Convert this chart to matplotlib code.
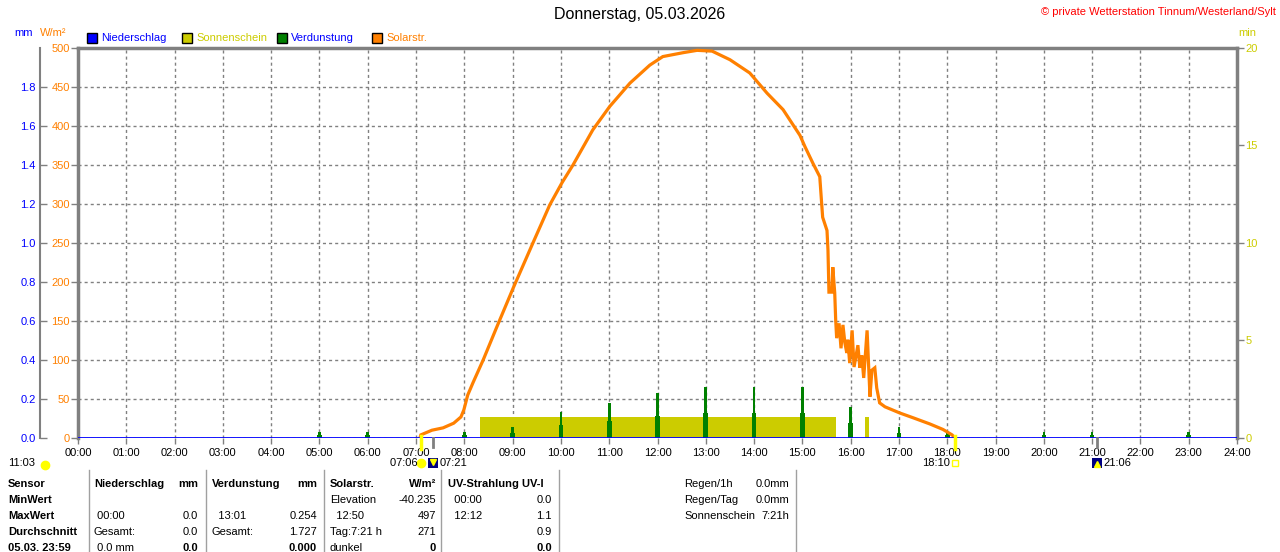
import matplotlib
matplotlib.use('Agg')
import matplotlib.pyplot as plt
import matplotlib.transforms as mtransforms
from matplotlib.patches import Rectangle
from matplotlib.lines import Line2D

plt.rcParams['font.family'] = ['Liberation Sans', 'DejaVu Sans']
plt.rcParams['font.size'] = 8

# solar radiation W/m2 (hour of day, value)
sol_hours = [7.08, 7.10, 7.33, 7.56, 7.78, 7.93, 7.99, 8.07, 8.18, 8.39, 8.67, 9.01,
             9.42, 9.77, 10.02, 10.25, 10.66, 11.01, 11.43, 11.84, 12.11, 12.53,
             12.82, 13.13, 13.50, 13.91, 14.27, 14.60, 14.95, 15.05, 15.22, 15.36,
             15.40, 15.42, 15.51, 15.53, 15.55, 15.61, 15.63, 15.67, 15.69, 15.71,
             15.76, 15.80, 15.84, 15.88, 15.92, 15.94, 15.98, 16.03, 16.07, 16.15,
             16.19, 16.23, 16.27, 16.34, 16.40, 16.44, 16.50, 16.54, 16.60, 16.71,
             17.02, 17.29, 17.64, 17.91, 18.10, 18.16]
sol_values = [0, 4, 10, 13, 19, 27, 36, 55, 71, 100, 142, 192,
              250, 299, 327, 350, 395, 425, 455, 478, 489, 494,
              497, 496, 485, 468, 442, 421, 388, 374, 352, 335,
              300, 283, 266, 241, 187, 187, 219, 186, 151, 128,
              147, 115, 145, 122, 109, 126, 96, 138, 91, 119,
              90, 106, 77, 138, 53, 87, 90, 64, 45, 40,
              32, 26, 18, 11, 4, 0]

# sunshine minutes
sun_start = [8.33, 16.30]
sun_end = [15.70, 16.38]
sun_min = [1.09, 1.09]

# evaporation mm, two readings around each hour
evap_hours = [5, 6, 8, 9, 10, 11, 12, 13, 14, 15, 16, 17, 18, 20, 21, 23]
evap_peak = [0.03, 0.03, 0.03, 0.056, 0.133, 0.18, 0.23, 0.26, 0.26, 0.26, 0.16,
             0.056, 0.03, 0.03, 0.03, 0.03]
evap_low = [0.015, 0.015, 0.015, 0.025, 0.067, 0.087, 0.113, 0.128, 0.128, 0.128,
            0.077, 0.025, 0.015, 0.015, 0.015, 0.015]

hour_labels = ['%02d:00' % h for h in range(25)]

ORANGE = '#ff8000'
YELLOW = '#cccc00'
GREEN = '#008000'
BLUE = '#0000ff'
GRAY = '#808080'

W, H = 1280, 552
fig = plt.figure(figsize=(W / 100, H / 100), dpi=100)


def fx(x):
    return x / W


def fy(y):
    return 1 - y / H


ax = fig.add_axes([fx(78), fy(438), fx(1237 - 78), (438 - 48) / H])
ax.set_xlim(0, 24)
ax.set_ylim(0, 500)
ax.set_xticks(range(25))
ax.set_xticklabels(hour_labels)
ax.set_yticks(range(0, 501, 50))
ax.grid(True, color=GRAY, linestyle=(0, (2.2, 2.2)), linewidth=1)
ax.tick_params(axis='y', colors=GRAY, labelcolor=ORANGE, length=5, width=1, pad=1,
               labelsize=8)
ax.tick_params(axis='x', colors=GRAY, labelcolor='black', length=4, width=1, pad=3,
               labelsize=8)
for s in ['left', 'top', 'right']:
    ax.spines[s].set_color(GRAY)
    ax.spines[s].set_linewidth(2.5)
ax.spines['bottom'].set_visible(False)

# sunshine minutes (right axis)
ax_min = ax.twinx()
ax_min.set_ylim(0, 20)
ax_min.set_yticks([0, 5, 10, 15, 20])
ax_min.tick_params(axis='y', colors=GRAY, labelcolor=YELLOW, length=5, width=1, pad=1,
                   labelsize=8)
for s in ax_min.spines.values():
    s.set_visible(False)
widths = [e - s for s, e in zip(sun_start, sun_end)]
ax_min.bar(sun_start, sun_min, width=widths, align='edge', color=YELLOW, linewidth=0)

# evaporation / precipitation (mm axis, far left)
ax_mm = ax.twinx()
ax_mm.set_ylim(0, 2)
ax_mm.yaxis.set_ticks_position('left')
ax_mm.set_yticks([i / 10 for i in range(0, 19, 2)])
ax_mm.set_yticklabels(['%.1f' % (i / 10) for i in range(0, 19, 2)])
for s in ['right', 'top', 'bottom']:
    ax_mm.spines[s].set_visible(False)
ax_mm.spines['left'].set_visible(True)
ax_mm.spines['left'].set_position(('outward', 38 * 0.72))
ax_mm.spines['left'].set_color(GRAY)
ax_mm.spines['left'].set_linewidth(1.5)
ax_mm.tick_params(axis='y', direction='in', colors=GRAY, labelcolor=BLUE, length=5,
                  width=1, pad=3, labelsize=8)
ax_mm.bar(evap_hours, evap_low, width=0.095, color=GREEN, linewidth=0)
ax_mm.bar(evap_hours, evap_peak, width=0.055, color=GREEN, linewidth=0)

# solar radiation on top
ax_sol = ax.twinx()
ax_sol.set_ylim(0, 500)
ax_sol.axis('off')
ax_sol.plot(sol_hours, sol_values, color=ORANGE, linewidth=2.3, solid_joinstyle='miter')
ax_sol.axhline(0, color=BLUE, linewidth=2, zorder=5)

# header texts
fig.text(0.5, fy(15), 'Donnerstag, 05.03.2026', ha='center', va='center', fontsize=11.5)
fig.text(fx(1276), fy(12), '\u00a9 private Wetterstation Tinnum/Westerland/Sylt',
         ha='right', va='center', color='red', fontsize=8)
fig.text(fx(14), fy(33), 'mm', color=BLUE, va='center')
fig.text(fx(40), fy(33), 'W/m\u00b2', color=ORANGE, va='center')
fig.text(fx(1238), fy(33), 'min', color=YELLOW, va='center')

legend = [('Niederschlag', BLUE, BLUE, 87), ('Sonnenschein', YELLOW, YELLOW, 182),
          ('Verdunstung', GREEN, BLUE, 277), ('Solarstr.', ORANGE, ORANGE, 372)]
for name, fc, tc, x0 in legend:
    fig.patches.append(Rectangle((fx(x0), fy(43)), fx(10), 10 / H, facecolor=fc,
                                 edgecolor='black', linewidth=1,
                                 transform=fig.transFigure, figure=fig))
    fig.text(fx(x0 + 14), fy(38), name, color=tc, va='center')

# sun and moon markers under the time axis
tr = mtransforms.blended_transform_factory(ax.transData, fig.transFigure)
fig.text(fx(8), fy(463), '11:03', va='center')
fig.add_artist(Line2D([fx(45)], [fy(465)], marker='o', markersize=6, color='#ffff00',
                      transform=fig.transFigure))

sunrise, sunset = 7.1, 18.17
moonset, moonrise = 7.35, 21.1
for t in [sunrise, sunset]:
    fig.add_artist(Line2D([t, t], [fy(436), fy(449)], color='#ffff00', linewidth=2.5,
                          transform=tr))
for t in [moonset, moonrise]:
    fig.add_artist(Line2D([t, t], [fy(438), fy(447)], color=GRAY, linewidth=2,
                          transform=tr))
fig.text(sunrise, fy(463), '07:06 ', transform=tr, ha='right', va='center')
fig.add_artist(Line2D([sunrise], [fy(463)], marker='o', markersize=6, color='#ffff00',
                      transform=tr))
fig.patches.append(Rectangle((moonset - 0.1, fy(468)), 0.2, 10 / H, facecolor='#000080',
                             edgecolor='none', transform=tr, figure=fig))
fig.add_artist(Line2D([moonset], [fy(462)], marker='v', markersize=5, color='#ffff00',
                      transform=tr))
fig.text(moonset + 0.13, fy(463), '07:21', transform=tr, va='center')

fig.text(sunset - 0.12, fy(463), '18:10', transform=tr, ha='right', va='center')
fig.add_artist(Line2D([sunset], [fy(463)], marker='s', markersize=5, color='#ffff00',
                      markerfacecolor='none', markeredgewidth=1, transform=tr))
fig.patches.append(Rectangle((moonrise - 0.1, fy(468)), 0.2, 10 / H, facecolor='#000080',
                             edgecolor='none', transform=tr, figure=fig))
fig.add_artist(Line2D([moonrise], [fy(464)], marker='^', markersize=5, color='#ffff00',
                      transform=tr))
fig.text(moonrise + 0.13, fy(463), '21:06', transform=tr, va='center')

# table at the bottom
for x in [89, 206, 324, 441, 559, 796]:
    fig.add_artist(Line2D([fx(x), fx(x)], [fy(470), fy(552)], color='#a0a0a0',
                          linewidth=1, transform=fig.transFigure))

rows_y = [484, 500, 516, 532, 548]
row_names = ['Sensor', 'MinWert', 'MaxWert', 'Durchschnitt', '05.03. 23:59']
for y, name in zip(rows_y, row_names):
    fig.text(fx(8), fy(y), name, fontweight='bold', va='center')

cols = [
    (94, 198, [('Niederschlag', 'mm', True), ('', '', False), (' 00:00', '0.0', False),
               ('Gesamt:', '0.0', False), (' 0.0 mm', '0.0', 'last')]),
    (212, 317, [('Verdunstung', 'mm', True), ('', '', False), ('  13:01', '0.254', False),
                ('Gesamt:', '1.727', False), ('', '0.000', 'last')]),
    (330, 436, [('Solarstr.', 'W/m\u00b2', True), ('Elevation', '-40.235', False),
                ('  12:50', '497', False), ('Tag:7:21 h', '271', False),
                ('dunkel', '0', 'last')]),
    (448, 552, [('UV-Strahlung UV-I', '', True), ('  00:00', '0.0', False),
                ('  12:12', '1.1', False), ('', '0.9', False), ('', '0.0', 'last')]),
]
for xl, xr, cells in cols:
    for y, (left, right, kind) in zip(rows_y, cells):
        fig.text(fx(xl), fy(y), left, va='center',
                 fontweight='bold' if kind is True else 'normal')
        fig.text(fx(xr), fy(y), right, va='center', ha='right',
                 fontweight='bold' if kind else 'normal')

extra = [('Regen/1h', '0.0mm'), ('Regen/Tag', '0.0mm'), ('Sonnenschein', '7:21h')]
for y, (k, v) in zip(rows_y, extra):
    fig.text(fx(684), fy(y), k, va='center')
    fig.text(fx(789), fy(y), v, va='center', ha='right')

fig.savefig('out.png', dpi=100)
